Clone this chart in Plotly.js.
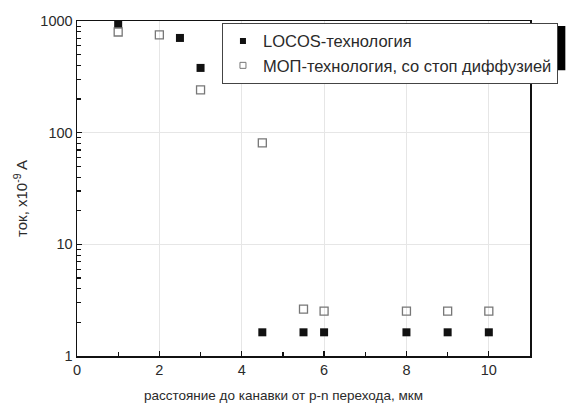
<!DOCTYPE html>
<html>
<head>
<meta charset="utf-8">
<script src="https://cdn.plot.ly/plotly-3.0.1.min.js"></script>
<style>html,body{margin:0;padding:0;background:#fff;}#chart{width:566px;height:403px;}</style>
</head>
<body>
<div id="chart"></div>
<script>
// Data
const locosX = [1, 2.5, 3, 4.5, 5.5, 6, 8, 9, 10];
const locosY = [940, 705, 380, 1.63, 1.63, 1.63, 1.63, 1.63, 1.63];
const mopX = [1, 2, 3, 4.5, 5.5, 6, 8, 9, 10];
const mopY = [797, 750, 242, 81, 2.63, 2.52, 2.52, 2.52, 2.52];
const seriesNames = ["LOCOS-технология", "МОП-технология, со стоп диффузией"];
const xTitle = "расстояние до канавки от p-n перехода, мкм";
const yTitle = "ток, x10<sup>-9</sup> A";

const font = "Liberation Sans, Arial, sans-serif";
const txt = "#2a2a2a";

const traces = [
  {
    x: locosX, y: locosY, name: seriesNames[0], type: "scatter", mode: "markers", showlegend: false,
    marker: {symbol: "square", size: 8, color: "#111", line: {width: 0}}
  },
  {
    x: mopX, y: mopY, name: seriesNames[1], type: "scatter", mode: "markers", showlegend: false,
    marker: {symbol: "square-open", size: 8, color: "#777", line: {width: 1.3}}
  },
  // legend entries (smaller legend symbols, as in the reference)
  {
    x: [null], y: [null], name: seriesNames[0], type: "scatter", mode: "markers",
    marker: {symbol: "square", size: 6, color: "#111", line: {width: 0}}
  },
  {
    x: [null], y: [null], name: seriesNames[1], type: "scatter", mode: "markers",
    marker: {symbol: "square-open", size: 6, color: "#777", line: {width: 1}}
  }
];

const layout = {
  width: 566, height: 403,
  margin: {l: 77, r: 36, t: 21, b: 47, autoexpand: false},
  paper_bgcolor: "#fff", plot_bgcolor: "#fff",
  font: {family: font, color: txt, size: 13},
  showlegend: true,
  legend: {
    x: 0.32, y: 0.995, xanchor: "left", yanchor: "top",
    bgcolor: "#fff", bordercolor: "#444", borderwidth: 1,
    font: {family: font, size: 16.5, color: txt},
    tracegroupgap: 0
  },
  shapes: [
    {type: "rect", xref: "paper", yref: "paper", layer: "above",
     x0: 0.335, x1: 1.078, y0: 0.853, y1: 0.985,
     fillcolor: "#000", line: {width: 0}}
  ],
  xaxis: {
    range: [0, 11], tickmode: "linear", tick0: 0, dtick: 2,
    ticks: "inside", ticklen: 5, tickwidth: 1.2, tickcolor: "#111",
    minor: {dtick: 1, tick0: 0, ticks: "inside", ticklen: 4, tickwidth: 1.2, tickcolor: "#111", showgrid: false},
    showgrid: true, gridcolor: "#e6e6e6", gridwidth: 1,
    showline: true, linecolor: "#111", linewidth: 1.5, mirror: true,
    zeroline: false,
    tickfont: {family: font, size: 14.5, color: txt}
  },
  yaxis: {
    type: "log", range: [0, 3], dtick: 1, tickformat: "d",
    ticks: "inside", ticklen: 5, tickwidth: 1.2, tickcolor: "#111",
    minor: {dtick: "D1", ticks: "inside", ticklen: 4, tickwidth: 1.2, tickcolor: "#111", showgrid: false},
    showgrid: true, gridcolor: "#e6e6e6", gridwidth: 1,
    showline: true, linecolor: "#111", linewidth: 1.5, mirror: true,
    zeroline: false,
    tickfont: {family: font, size: 14.5, color: txt}
  },
  annotations: [
    {text: xTitle, xref: "paper", yref: "paper", x: 0.455, y: -0.09, xanchor: "center", yanchor: "top",
     showarrow: false, font: {family: font, size: 13.5, color: txt}},
    {text: yTitle, xref: "paper", yref: "paper", x: -0.125, y: 0.47, xanchor: "center", yanchor: "middle",
     textangle: -90, showarrow: false, font: {family: font, size: 15, color: txt}}
  ]
};

Plotly.newPlot("chart", traces, layout, {displayModeBar: false, staticPlot: true});
</script>
</body>
</html>
